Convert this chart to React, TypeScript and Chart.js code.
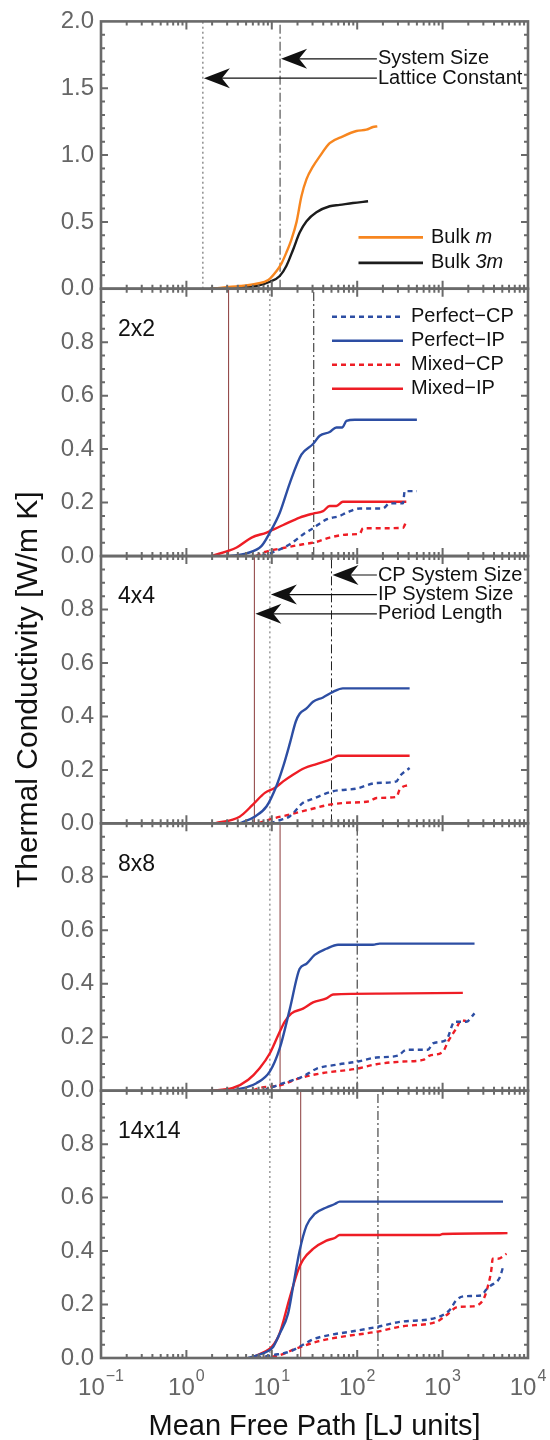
import React, { useEffect, useRef } from 'react';
import { Chart, registerables } from 'chart.js';

Chart.register(...registerables);

// ---------------- data ----------------
// Panel 1: bulk
const bulkMX = [1.9, 4.2, 6.6, 9.1, 11.3, 13.0, 14.8, 17.0, 19.5, 22.2, 25.5, 30.4, 36.4, 47.6, 68, 98, 128, 153, 172];
const bulkMY = [0, 0.02, 0.037, 0.065, 0.13, 0.19, 0.27, 0.37, 0.5, 0.69, 0.82, 0.915, 0.99, 1.089, 1.14, 1.18, 1.19, 1.21, 1.215];
const bulk3mX = [1.9, 6.6, 9.5, 12.4, 14.8, 17.7, 21.2, 25.5, 33.3, 47.6, 62.4, 89, 134];
const bulk3mY = [0, 0.02, 0.052, 0.095, 0.17, 0.29, 0.42, 0.505, 0.572, 0.617, 0.627, 0.641, 0.654];

// Panel 2: 2x2
const p2PerfIPX = [3.2, 5.06, 7.6, 9.5, 12.4, 16.3, 22.2, 30.4, 36.4, 47.6, 57.1, 67, 74.8, 93.6, 500];
const p2PerfIPY = [0, 0.01, 0.038, 0.088, 0.162, 0.274, 0.379, 0.419, 0.45, 0.464, 0.481, 0.481, 0.506, 0.51, 0.51];
const p2MixIPX = [1.97, 3.87, 5.8, 8.7, 13.6, 21.2, 30.4, 39.8, 47.6, 57, 68, 376];
const p2MixIPY = [0, 0.032, 0.069, 0.088, 0.116, 0.144, 0.159, 0.168, 0.187, 0.187, 0.203, 0.203];
const p2PerfCPX = [7.5, 9.5, 16.3, 23.2, 30.4, 43.6, 62.4, 74.8, 107, 200, 240, 344, 360, 500];
const p2PerfCPY = [0, 0.01, 0.044, 0.081, 0.104, 0.137, 0.15, 0.162, 0.178, 0.178, 0.197, 0.197, 0.243, 0.243];
const p2MixCPX = [6.5, 7.9, 13.6, 23.2, 33.3, 47.6, 81.7, 107, 117, 183, 344, 376];
const p2MixCPY = [0, 0.013, 0.03, 0.044, 0.053, 0.069, 0.081, 0.083, 0.104, 0.104, 0.106, 0.131];

// Panel 3: 4x4
const p3PerfIPX = [4.2, 6.3, 8.7, 11.3, 13.6, 16.3, 19.1, 21.2, 25.5, 30.4, 39.8, 52.1, 68, 411];
const p3PerfIPY = [0, 0.025, 0.064, 0.139, 0.213, 0.3, 0.381, 0.41, 0.43, 0.455, 0.471, 0.492, 0.505, 0.505];
const p3MixIPX = [2.15, 4.2, 6.0, 8.3, 10.8, 13.6, 17.7, 24.3, 33.3, 49.9, 59.7, 411];
const p3MixIPY = [0, 0.025, 0.07, 0.114, 0.132, 0.157, 0.182, 0.207, 0.222, 0.24, 0.253, 0.253];
const p3PerfCPX = [9.5, 11.3, 16.3, 23.2, 30.4, 52.1, 98, 168, 288, 314, 411];
const p3PerfCPY = [0, 0.008, 0.027, 0.077, 0.092, 0.12, 0.13, 0.151, 0.157, 0.176, 0.207];
const p3MixCPX = [7.0, 9.5, 16.3, 27.8, 47.6, 74.8, 140, 168, 288, 314, 411];
const p3MixCPY = [0, 0.015, 0.033, 0.052, 0.07, 0.077, 0.083, 0.095, 0.099, 0.126, 0.145];

// Panel 4: 8x8
const p4PerfIPX = [3.5, 6.6, 9.5, 12.4, 16.3, 21.2, 25.5, 31.8, 43.6, 59.7, 153, 183, 2366];
const p4PerfIPY = [0, 0.028, 0.072, 0.159, 0.307, 0.456, 0.475, 0.508, 0.531, 0.546, 0.546, 0.55, 0.55];
const p4MixIPX = [1.88, 3.5, 5.3, 7.2, 9.5, 11.9, 14.2, 17.0, 23.2, 30.4, 43.6, 52.1, 183, 1726];
const p4MixIPY = [0, 0.01, 0.041, 0.084, 0.14, 0.208, 0.258, 0.289, 0.307, 0.33, 0.345, 0.36, 0.363, 0.366];
const p4PerfCPX = [8.0, 9.5, 13.6, 23.2, 33.3, 57, 102, 168, 300, 376, 673, 770, 1105, 1380, 1890, 2366];
const p4PerfCPY = [0, 0.01, 0.028, 0.053, 0.082, 0.097, 0.109, 0.124, 0.131, 0.153, 0.153, 0.177, 0.19, 0.258, 0.258, 0.289];
const p4MixCPX = [6.0, 7.2, 12.4, 21.2, 39.8, 98, 168, 344, 589, 705, 1009, 1154, 1445, 1656, 1890];
const p4MixCPY = [0, 0.01, 0.02, 0.047, 0.066, 0.082, 0.099, 0.109, 0.115, 0.131, 0.146, 0.183, 0.233, 0.264, 0.26];

// Panel 5: 14x14
const p5PerfIPX = [5.3, 9.5, 10.4, 12.4, 15.5, 17.7, 21.2, 25.5, 31.8, 43.6, 54.6, 62.4, 5100];
const p5PerfIPY = [0, 0.03, 0.042, 0.092, 0.166, 0.265, 0.402, 0.495, 0.539, 0.563, 0.576, 0.585, 0.585];
const p5MixIPX = [6.0, 11.9, 16.3, 20.3, 23.2, 30.4, 43.6, 54.6, 62.4, 923, 1000, 5750];
const p5MixIPY = [0, 0.079, 0.228, 0.328, 0.367, 0.408, 0.439, 0.449, 0.46, 0.46, 0.464, 0.467];
const p5PerfCPX = [6.6, 10.4, 16.3, 22.2, 30.4, 47.6, 81.7, 175, 314, 844, 1208, 1445, 1806, 2830, 3245, 3630, 4650, 5100];
const p5PerfCPY = [0, 0.011, 0.024, 0.046, 0.07, 0.086, 0.098, 0.117, 0.135, 0.151, 0.179, 0.216, 0.231, 0.234, 0.256, 0.27, 0.3, 0.34];
const p5MixCPX = [7.9, 12.4, 19.5, 36.4, 74.8, 168, 344, 844, 1105, 1510, 2260, 2960, 3245, 3715, 3860, 4435, 5610];
const p5MixCPY = [0, 0.011, 0.036, 0.064, 0.082, 0.098, 0.119, 0.135, 0.16, 0.191, 0.193, 0.216, 0.247, 0.328, 0.371, 0.371, 0.39];

// Reference lengths (LJ units)
const latticeConstant = 1.56;
const bulkSystemSize = 12.5;
const periodLengths = [3.12, 6.25, 12.5, 21.8];
const ipSystemSizes = [9.5, 9.5, 9.5, 9.5];
const cpSystemSizes = [31, 50, 100, 175];

const panelNames = ['', '2x2', '4x4', '8x8', '14x14'];
const panelIds = ['yBulk', 'y2x2', 'y4x4', 'y8x8', 'y14x14'];
const xExponents = [-1, 0, 1, 2, 3, 4];
const lowerSeriesNames = ['Perfect\u2212CP', 'Perfect\u2212IP', 'Mixed\u2212CP', 'Mixed\u2212IP'];

// arrows: [label, tip x value, y value, text x value]
const bulkArrows: [string, number, number, number][] = [
  ['System Size', 12.5, 1.72, 170],
  ['Lattice Constant', 1.56, 1.575, 170],
];
const fourArrows: [string, number, number, number][] = [
  ['CP System Size', 50, 0.929, 170],
  ['IP System Size', 9.5, 0.856, 170],
  ['Period Length', 6.25, 0.784, 170],
];

// ---------------- styling ----------------
const FONT = '"Liberation Sans", Arial, Helvetica, sans-serif';
const AXIS = '#6a6a6a';
const TICK_TXT = '#666666';
const BLUE = '#2d4ea3';
const RED = '#ee1d25';
const ORANGE = '#f7861f';
const BLACK = '#1c1c1c';
const BROWN = '#8a3a3a';
const DASH = [5, 4];

const xy = (xs: number[], ys: number[]) => xs.map((x, i) => ({ x, y: ys[i] }));

function series(label: string, xs: number[], ys: number[], color: string, dashed: boolean, axis: string) {
  return {
    label,
    data: xy(xs, ys),
    yAxisID: axis,
    xAxisID: 'x',
    borderColor: color,
    backgroundColor: color,
    borderWidth: 2.4,
    borderDash: dashed ? DASH : [],
    pointRadius: 0,
    fill: false,
    cubicInterpolationMode: 'monotone',
    order: 1,
  };
}

function vline(label: string, x: number, top: number, axis: string, color: string, dash: number[], width = 1) {
  return {
    label,
    data: [{ x, y: 0 }, { x, y: top }],
    yAxisID: axis,
    xAxisID: 'x',
    borderColor: color,
    borderWidth: width,
    borderDash: dash,
    pointRadius: 0,
    fill: false,
    tension: 0,
    order: 10,
  };
}

function buildDatasets() {
  const ds: any[] = [];
  ds.push(series('Bulk m', bulkMX, bulkMY, ORANGE, false, 'yBulk'));
  ds.push(series('Bulk 3m', bulk3mX, bulk3mY, BLACK, false, 'yBulk'));
  ds.push(vline('Lattice Constant', latticeConstant, 2, 'yBulk', '#555', [2, 3]));
  ds.push(vline('System Size', bulkSystemSize, 2, 'yBulk', '#333', [9, 3, 2, 3]));
  const lower = [
    [p2PerfCPX, p2PerfCPY, p2PerfIPX, p2PerfIPY, p2MixCPX, p2MixCPY, p2MixIPX, p2MixIPY],
    [p3PerfCPX, p3PerfCPY, p3PerfIPX, p3PerfIPY, p3MixCPX, p3MixCPY, p3MixIPX, p3MixIPY],
    [p4PerfCPX, p4PerfCPY, p4PerfIPX, p4PerfIPY, p4MixCPX, p4MixCPY, p4MixIPX, p4MixIPY],
    [p5PerfCPX, p5PerfCPY, p5PerfIPX, p5PerfIPY, p5MixCPX, p5MixCPY, p5MixIPX, p5MixIPY],
  ];
  lower.forEach((arr, i) => {
    const axis = panelIds[i + 1];
    ds.push(series(lowerSeriesNames[0], arr[0], arr[1], BLUE, true, axis));
    ds.push(series(lowerSeriesNames[1], arr[2], arr[3], BLUE, false, axis));
    ds.push(series(lowerSeriesNames[2], arr[4], arr[5], RED, true, axis));
    ds.push(series(lowerSeriesNames[3], arr[6], arr[7], RED, false, axis));
    ds.push(vline('Period Length', periodLengths[i], 1, axis, BROWN, []));
    ds.push(vline('IP System Size', ipSystemSizes[i], 1, axis, '#666', [2, 3]));
    ds.push(vline('CP System Size', cpSystemSizes[i], 1, axis, '#222', [9, 3, 2, 3]));
  });
  return ds;
}

function yScale(max: number, step: number, weight: number, hideTop: boolean) {
  return {
    type: 'linear',
    position: 'left',
    stack: 'panels',
    stackWeight: 1,
    weight,
    min: 0,
    max,
    ticks: {
      stepSize: step,
      font: { family: FONT, size: 24 },
      color: TICK_TXT,
      padding: 7,
      autoSkip: false,
      callback: (v: any) => (hideTop && Math.abs(Number(v) - max) < 1e-9 ? '' : Number(v).toFixed(1)),
    },
    grid: { display: false, drawTicks: false },
    border: { display: false },
    afterFit: (s: any) => {
      s.width = 101;
    },
  };
}

function drawArrow(ctx: CanvasRenderingContext2D, tipX: number, y: number, tailX: number) {
  ctx.save();
  ctx.strokeStyle = '#111';
  ctx.fillStyle = '#111';
  ctx.lineWidth = 1.2;
  ctx.setLineDash([]);
  ctx.beginPath();
  ctx.moveTo(tipX + 10, y);
  ctx.lineTo(tailX, y);
  ctx.stroke();
  const L = 26, H = 10, N = 18;
  ctx.beginPath();
  ctx.moveTo(tipX, y);
  ctx.lineTo(tipX + L, y - H);
  ctx.lineTo(tipX + N, y);
  ctx.lineTo(tipX + L, y + H);
  ctx.closePath();
  ctx.fill();
  ctx.restore();
}

const decorPlugin = {
  id: 'decor',
  afterDatasetsDraw(chart: any) {
    const { ctx, chartArea } = chart;
    const xs = chart.scales.x;
    const left = chartArea.left;
    const right = chartArea.right;
    ctx.save();

    // frames and ticks
    panelIds.forEach((id, i) => {
      const ys = chart.scales[id];
      const top = ys.top;
      const bot = ys.bottom;
      ctx.strokeStyle = AXIS;
      ctx.setLineDash([]);
      ctx.lineWidth = 2;
      ctx.beginPath();
      for (let n = -1; n <= 3; n++) {
        for (let k = 1; k <= 9; k++) {
          const v = k * Math.pow(10, n);
          if (n === -1 && k === 1) continue;
          const px = xs.getPixelForValue(v);
          const len = k === 1 ? 8 : 4;
          ctx.moveTo(px, bot);
          ctx.lineTo(px, bot - len);
          ctx.moveTo(px, top);
          ctx.lineTo(px, top + len);
        }
      }
      const minor = i === 0 ? 0.1 : 0.05;
      const major = i === 0 ? 0.5 : 0.2;
      const count = Math.round(ys.max / minor);
      for (let j = 1; j < count; j++) {
        const v = j * minor;
        const isMajor = Math.abs(v / major - Math.round(v / major)) < 1e-6;
        const py = ys.getPixelForValue(v);
        const len = isMajor ? 7 : 4;
        ctx.moveTo(left, py);
        ctx.lineTo(left + len, py);
        ctx.moveTo(right, py);
        ctx.lineTo(right - len, py);
      }
      ctx.stroke();
      ctx.lineWidth = 2.6;
      ctx.strokeRect(left, top, right - left, bot - top);

      // panel label
      if (panelNames[i]) {
        ctx.fillStyle = '#111';
        ctx.font = `23px ${FONT}`;
        ctx.textAlign = 'left';
        ctx.textBaseline = 'middle';
        ctx.fillText(panelNames[i], left + 17, top + 41);
      }
    });

    // bulk panel: arrows + legend
    const yb = chart.scales.yBulk;
    ctx.font = `20px ${FONT}`;
    ctx.textBaseline = 'middle';
    ctx.textAlign = 'left';
    ctx.fillStyle = '#111';
    bulkArrows.forEach(([label, tip, yv, tx]) => {
      const py = yb.getPixelForValue(yv);
      const tPx = xs.getPixelForValue(tx);
      drawArrow(ctx, xs.getPixelForValue(tip) + 1, py, tPx);
      ctx.fillStyle = '#111';
      ctx.font = `20px ${FONT}`;
      ctx.fillText(label, tPx + 1, py);
    });
    const bulkLegend: [string, string, string][] = [
      ['Bulk ', 'm', ORANGE],
      ['Bulk ', '3m', BLACK],
    ];
    bulkLegend.forEach(([a, b, c], k) => {
      const py = yb.top + 216 + k * 25.5;
      ctx.strokeStyle = c;
      ctx.lineWidth = 2.6;
      ctx.setLineDash([]);
      ctx.beginPath();
      ctx.moveTo(358.5, py);
      ctx.lineTo(423, py);
      ctx.stroke();
      ctx.fillStyle = '#111';
      ctx.font = `20px ${FONT}`;
      ctx.fillText(a, 431, py);
      const w = ctx.measureText(a).width;
      ctx.font = `italic 20px ${FONT}`;
      ctx.fillText(b, 431 + w, py);
    });

    // 2x2 legend
    const y2 = chart.scales.y2x2;
    const legendStyles: [string, boolean][] = [
      [BLUE, true],
      [BLUE, false],
      [RED, true],
      [RED, false],
    ];
    legendStyles.forEach(([c, dashed], k) => {
      const py = y2.top + 28 + k * 24;
      ctx.strokeStyle = c;
      ctx.lineWidth = 2.4;
      ctx.setLineDash(dashed ? DASH : []);
      ctx.beginPath();
      ctx.moveTo(332, py);
      ctx.lineTo(403, py);
      ctx.stroke();
      ctx.setLineDash([]);
      ctx.fillStyle = '#111';
      ctx.font = `20px ${FONT}`;
      ctx.fillText(lowerSeriesNames[k], 411, py);
    });

    // 4x4 arrows
    const y4 = chart.scales.y4x4;
    fourArrows.forEach(([label, tip, yv, tx]) => {
      const py = y4.getPixelForValue(yv);
      const tPx = xs.getPixelForValue(tx);
      drawArrow(ctx, xs.getPixelForValue(tip) + 1, py, tPx);
      ctx.fillStyle = '#111';
      ctx.font = `20px ${FONT}`;
      ctx.fillText(label, tPx + 1, py);
    });

    // x tick labels with superscripts
    ctx.fillStyle = TICK_TXT;
    ctx.textBaseline = 'alphabetic';
    ctx.textAlign = 'left';
    xExponents.forEach((n) => {
      const px = xs.getPixelForValue(Math.pow(10, n));
      const base = '10';
      const sup = n < 0 ? '\u2212' + String(-n) : String(n);
      ctx.font = `24px ${FONT}`;
      const wb = ctx.measureText(base).width;
      ctx.font = `16px ${FONT}`;
      const ws = ctx.measureText(sup).width;
      const x0 = px - (wb + ws + 1) / 2;
      ctx.font = `24px ${FONT}`;
      ctx.fillText(base, x0, chartArea.bottom + 37);
      ctx.font = `16px ${FONT}`;
      ctx.fillText(sup, x0 + wb + 1, chartArea.bottom + 23);
    });

    // axis titles
    ctx.fillStyle = '#111';
    ctx.font = `29px ${FONT}`;
    ctx.textAlign = 'center';
    ctx.textBaseline = 'alphabetic';
    ctx.fillText('Mean Free Path [LJ units]', (left + right) / 2, chartArea.bottom + 77);
    ctx.save();
    ctx.translate(29, (chartArea.top + chartArea.bottom) / 2);
    ctx.rotate(-Math.PI / 2);
    ctx.textBaseline = 'middle';
    ctx.font = `30px ${FONT}`;
    ctx.fillText('Thermal Conductivity [W/m K]', 0, 0);
    ctx.restore();

    ctx.restore();
  },
};

export default function App() {
  const ref = useRef<HTMLCanvasElement>(null);
  useEffect(() => {
    document.body.style.margin = '0';
    document.body.style.overflow = 'hidden';
    const scales: any = {
      x: {
        type: 'logarithmic',
        position: 'bottom',
        min: 0.1,
        max: 10000,
        ticks: { display: false },
        grid: { display: false, drawTicks: false },
        border: { display: false },
        afterFit: (s: any) => {
          s.height = 0;
        },
      },
      yBulk: yScale(2, 0.5, 5, false),
      y2x2: yScale(1, 0.2, 4, true),
      y4x4: yScale(1, 0.2, 3, true),
      y8x8: yScale(1, 0.2, 2, true),
      y14x14: yScale(1, 0.2, 1, true),
    };
    const chart = new Chart(ref.current as HTMLCanvasElement, {
      type: 'line',
      data: { datasets: buildDatasets() },
      options: {
        animation: false,
        responsive: false,
        maintainAspectRatio: false,
        devicePixelRatio: 1,
        layout: { padding: { top: 14.5, right: 22, bottom: 82, left: 0 } },
        plugins: { legend: { display: false }, tooltip: { enabled: false }, title: { display: false } },
        scales,
      } as any,
      plugins: [decorPlugin],
    } as any);
    return () => chart.destroy();
  }, []);
  return (
    <div style={{ width: 550, height: 1440, background: '#fff' }}>
      <canvas ref={ref} width={550} height={1440} style={{ display: 'block' }} />
    </div>
  );
}
